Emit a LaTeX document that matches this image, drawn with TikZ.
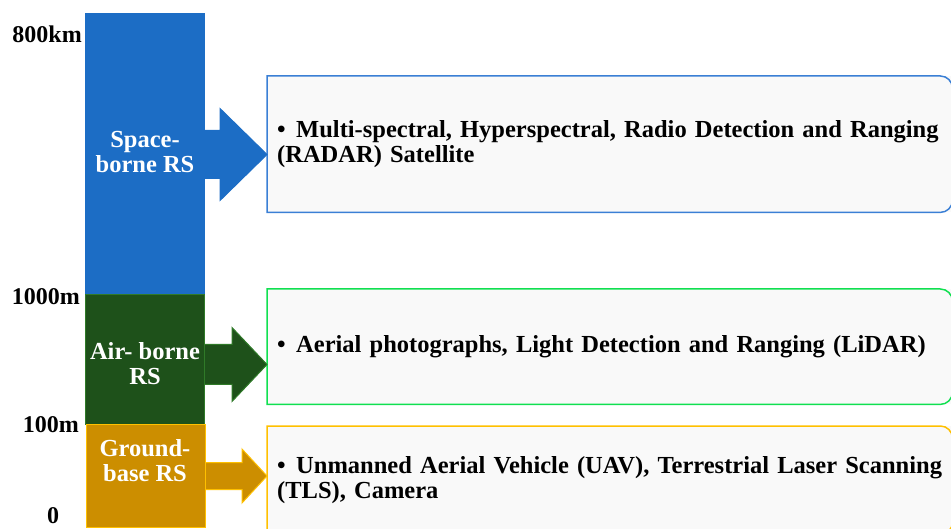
\documentclass[tikz,border=0pt]{standalone}
\usepackage{fontspec}
\setmainfont{Liberation Serif}
\usetikzlibrary{calc}

\definecolor{spaceblue}{HTML}{1C6DC5}
\definecolor{airgreen}{HTML}{1E511A}
\definecolor{airedge}{HTML}{2F7A28}
\definecolor{groundgold}{HTML}{CC8E00}
\definecolor{groundedge}{HTML}{FFC000}
\definecolor{boxblue}{HTML}{3A7FD5}
\definecolor{boxgreen}{HTML}{10E050}
\definecolor{boxfill}{HTML}{F9F9F9}

% block arrow from a column to its box:
% #1 fill, #2 edge, #3 column, #4 box, #5 half shaft, #6 half head, #7 head length, #8 shift
\newcommand{\rsarrow}[8]{%
  \path ($(#3.east)+(0,#8)$) coordinate (s) (s -| #4.west) coordinate (t);
  \path ($(s)+(0,-#5)$) coordinate (p1) ($(t)+(-#7,-#5)$) coordinate (p2)
        ($(t)+(-#7,-#6)$) coordinate (p3) ($(t)+(-#7,#6)$) coordinate (p5)
        ($(t)+(-#7,#5)$) coordinate (p6) ($(s)+(0,#5)$) coordinate (p7);
  \fill[#1] (p1) -- (p2) -- (p3) -- (t) -- (p5) -- (p6) -- (p7) -- cycle;
  \draw[#2, line width=1pt] (p1) -- (p2) -- (p3) -- (t) -- (p5) -- (p6) -- (p7);
}

\begin{document}
\begin{tikzpicture}[x=1pt, y=-1pt,
    column/.style={minimum width=119pt, inner sep=0pt, line width=1pt, anchor=north west},
    collab/.style={text=white, font=\fontsize{24.5}{25}\selectfont\bfseries, align=center},
    tick/.style={font=\fontsize{24}{25}\selectfont\bfseries, anchor=base east, inner sep=0pt},
    infobox/.style={fill=boxfill, minimum width=685pt, text width=665pt, inner xsep=10pt,
        align=left, anchor=north west, font=\fontsize{24.5}{24.5}\selectfont\bfseries},
]
  \useasboundingbox (0,0) rectangle (951,529);

  % height scale
  \node[tick] (t800) at (82,43) {800km};
  \node[tick] (t1000) at (80,305) {1000m};
  \node[tick] (t100) at (79,432) {100m};
  \node[tick, anchor=base] (t0) at (53,523) {0};

  % platform columns
  \node[column, fill=spaceblue, draw=spaceblue, minimum height=282pt] (space) at (85,13) {};
  \node[column, fill=airgreen, draw=airedge, minimum height=130pt] (air) at (85,294) {};
  \node[column, fill=groundgold, draw=groundedge, minimum height=103pt] (ground) at (86,424) {};

  \node[collab] (spacelab) at (145,152) {Space-\\borne RS};
  \node[collab] (airlab) at (145,364) {Air- borne\\RS};
  \node[collab] (groundlab) at (145,461) {Ground-\\base RS};

  % sensor boxes
  \node[infobox, minimum height=136pt] (spacebox) at (267,76)
    {\hangindent=19pt\hangafter=1\makebox[19pt][l]{\textbullet}Multi-spectral, Hyperspectral, Radio Detection and Ranging\\(RADAR) Satellite};
  \node[infobox, minimum height=115pt] (airbox) at (267,289)
    {\makebox[19pt][l]{\textbullet}Aerial photographs, Light Detection and Ranging (LiDAR)};
  \node[infobox, minimum height=108pt] (groundbox) at (267,426)
    {\hangindent=19pt\hangafter=1\makebox[19pt][l]{\textbullet}Unmanned Aerial Vehicle (UAV), Terrestrial Laser Scanning\\(TLS), Camera};

  \draw[boxblue, line width=1.5pt] (spacebox.north west) [rounded corners=12pt] -- (spacebox.north east)
    -- (spacebox.south east) [sharp corners] -- (spacebox.south west) -- cycle;
  \draw[boxgreen, line width=1.5pt] (airbox.north west) [rounded corners=12pt] -- (airbox.north east)
    -- (airbox.south east) [sharp corners] -- (airbox.south west) -- cycle;
  \draw[groundedge, line width=1.5pt] (groundbox.north west) [rounded corners=12pt] -- (groundbox.north east)
    -- (groundbox.south east) [sharp corners] -- (groundbox.south west) -- cycle;

  % arrows
  \rsarrow{spaceblue}{spaceblue}{space}{spacebox}{24}{46}{47}{0}
  \rsarrow{airgreen}{airedge}{air}{airbox}{20}{37}{35}{5}
  \rsarrow{groundgold}{groundedge}{ground}{groundbox}{13.5}{27}{25}{0}
\end{tikzpicture}
\end{document}
